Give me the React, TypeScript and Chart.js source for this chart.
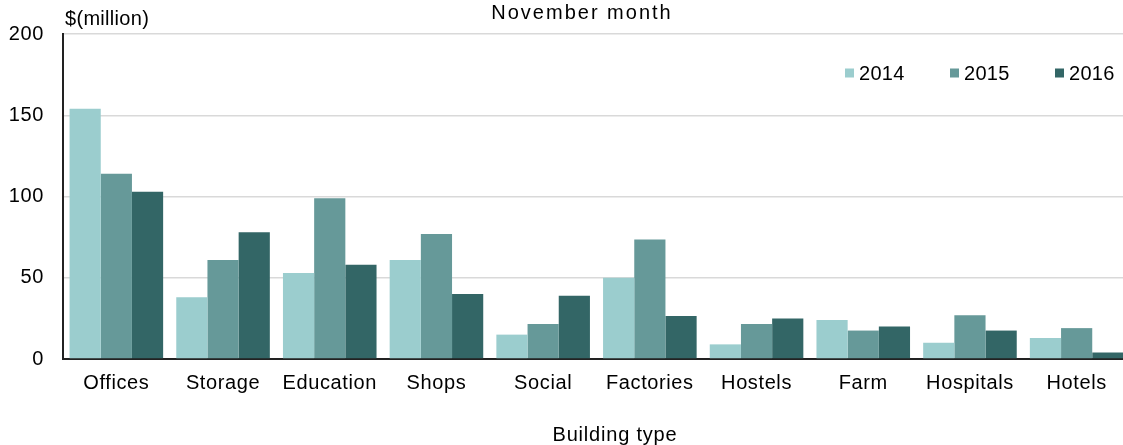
import React, { useEffect, useRef } from "react";
import { Chart, registerables } from "chart.js";

Chart.register(...registerables);

const categories = ["Offices", "Storage", "Education", "Shops", "Social", "Factories", "Hostels", "Farm", "Hospitals", "Hotels"];
const years = ["2014", "2015", "2016"];
const values2014 = [154, 38, 53, 61, 15, 50, 9, 24, 10, 13];
const values2015 = [114, 61, 99, 77, 21.5, 73.5, 21.5, 17.5, 27, 19];
const values2016 = [103, 78, 58, 40, 39, 26.5, 25, 20, 17.5, 4];
const colors = ["#9bcdce", "#669999", "#336666"];
const yTicks = [0, 50, 100, 150, 200];

const FONT = "'Liberation Sans', Arial, sans-serif";
const CANVAS_W = 1130;
const CANVAS_H = 445;

export default function App() {
  const ref = useRef<HTMLCanvasElement | null>(null);

  useEffect(() => {
    document.body.style.margin = "0";
    const canvas = ref.current;
    if (!canvas) return;

    const textPlugin = {
      id: "texts",
      beforeDraw(chart: any) {
        (chart.ctx as any).letterSpacing = "0.6px";
      },
      afterDraw(chart: any) {
        const ctx = chart.ctx;
        ctx.save();
        ctx.fillStyle = "#000";
        ctx.textBaseline = "middle";
        (ctx as any).letterSpacing = "2px";
        ctx.font = `20px ${FONT}`;
        ctx.textAlign = "center";
        ctx.fillText("November month", 582, 13);
        (ctx as any).letterSpacing = "0.8px";
        ctx.fillText("Building type", 615, 435);
        (ctx as any).letterSpacing = "0.3px";
        ctx.textAlign = "left";
        ctx.fillText("$(million)", 65, 19);
        // legend
        const startX = 845;
        const step = 105;
        const ly = 73;
        chart.data.datasets.forEach((ds: any, i: number) => {
          const x = startX + i * step;
          ctx.fillStyle = ds.backgroundColor;
          ctx.fillRect(x, ly - 4.5, 9, 9);
          ctx.fillStyle = "#000";
          ctx.fillText(ds.label, x + 14, ly + 1);
        });
        ctx.restore();
      },
    };

    const chart = new Chart(canvas, {
      type: "bar",
      data: {
        labels: categories,
        datasets: [
          { label: years[0], data: values2014, backgroundColor: colors[0] },
          { label: years[1], data: values2015, backgroundColor: colors[1] },
          { label: years[2], data: values2016, backgroundColor: colors[2] },
        ],
      },
      options: {
        responsive: false,
        animation: false,
        layout: { padding: { top: 34, right: 0, bottom: 0, left: 0 } },
        datasets: {
          bar: { categoryPercentage: 0.877, barPercentage: 1.0 },
        },
        plugins: {
          legend: { display: false },
          title: { display: false },
          tooltip: { enabled: false },
        },
        scales: {
          x: {
            grid: { display: false, drawTicks: false },
            border: { display: true, color: "#222", width: 2 },
            ticks: { color: "#000", font: { family: FONT, size: 20 }, padding: 12, maxRotation: 0, autoSkip: false },
            afterFit(scale: any) {
              scale.height = 86;
            },
          },
          y: {
            min: 0,
            max: 200,
            afterBuildTicks(scale: any) {
              scale.ticks = yTicks.map((v) => ({ value: v }));
            },
            grid: {
              drawTicks: false,
              color: (c: any) => (c.tick && c.tick.value === 0 ? "rgba(0,0,0,0)" : "#d9d9d9"),
              lineWidth: 1.5,
            },
            border: { display: true, color: "#222", width: 2 },
            ticks: { color: "#000", font: { family: FONT, size: 20 }, padding: 19 },
            afterFit(scale: any) {
              scale.width = 63;
            },
          },
        },
      },
      plugins: [textPlugin],
    });

    return () => chart.destroy();
  }, []);

  return (
    <div style={{ width: 1123, height: CANVAS_H, overflow: "hidden" }}>
      <canvas ref={ref} width={CANVAS_W} height={CANVAS_H} style={{ display: "block" }} />
    </div>
  );
}
